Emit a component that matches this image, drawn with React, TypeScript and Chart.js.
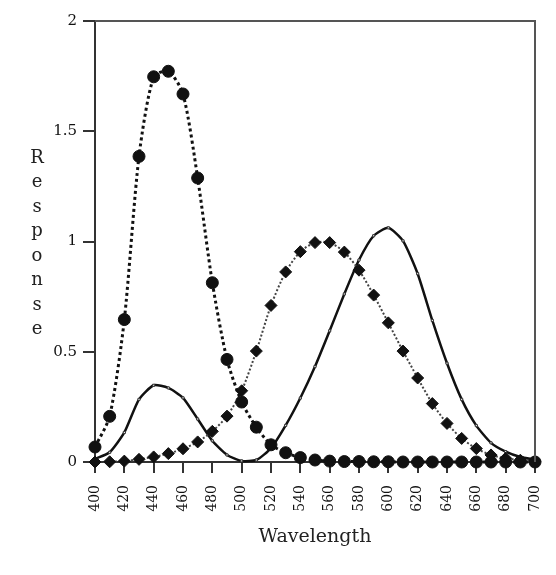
import React, { useEffect, useRef } from "react";
import { Chart, registerables } from "chart.js";

Chart.register(...registerables);

const wavelengths = [400,410,420,430,440,450,460,470,480,490,500,510,520,530,540,550,560,570,580,590,600,610,620,630,640,650,660,670,680,690,700];
const xBar = [0.014,0.044,0.134,0.284,0.348,0.336,0.291,0.195,0.096,0.032,0.005,0.009,0.063,0.166,0.290,0.433,0.595,0.762,0.916,1.026,1.062,1.003,0.854,0.642,0.448,0.284,0.165,0.087,0.047,0.023,0.011];
const yBar = [0.000,0.001,0.004,0.012,0.023,0.038,0.060,0.091,0.139,0.208,0.323,0.503,0.710,0.862,0.954,0.995,0.995,0.952,0.870,0.757,0.631,0.503,0.381,0.265,0.175,0.107,0.061,0.032,0.017,0.008,0.004];
const zBar = [0.068,0.207,0.646,1.386,1.747,1.772,1.669,1.288,0.813,0.465,0.272,0.158,0.078,0.042,0.020,0.009,0.004,0.002,0.002,0.001,0.001,0.000,0.000,0.000,0.000,0.000,0.000,0.000,0.000,0.000,0.000];
const yTitleLetters = ["R","e","s","p","o","n","s","e"];
const xTitle = "Wavelength";

const FONT = "'DejaVu Serif', 'Liberation Serif', serif";

const pts = (vals: number[]) => wavelengths.map((w, i) => ({ x: w, y: vals[i] }));

export default function App() {
  const ref = useRef<HTMLCanvasElement | null>(null);
  useEffect(() => {
    if (!ref.current) return;
    const framePlugin = {
      id: "frame",
      afterDraw(chart: any) {
        const { ctx, chartArea } = chart;
        ctx.save();
        ctx.strokeStyle = "#555";
        ctx.lineWidth = 2;
        ctx.beginPath();
        ctx.moveTo(chartArea.left, chartArea.top);
        ctx.lineTo(chartArea.right, chartArea.top);
        ctx.lineTo(chartArea.right, chartArea.bottom);
        ctx.stroke();
        ctx.fillStyle = "#222";
        ctx.font = "18px " + FONT;
        ctx.textAlign = "center";
        ctx.textBaseline = "middle";
        yTitleLetters.forEach((ch, i) => {
          ctx.fillText(ch, 37, 158 + i * 24.5);
        });
        ctx.restore();
      },
    };
    const chart = new Chart(ref.current, {
      type: "line",
      data: {
        datasets: [
          {
            label: "z",
            data: pts(zBar),
            borderColor: "#111",
            borderWidth: 3,
            borderDash: [3, 3],
            pointStyle: "circle",
            pointRadius: 6,
            pointBackgroundColor: "#111",
            pointBorderColor: "#111",
            pointBorderWidth: 1,
            tension: 0.25,
            clip: false,
          },
          {
            label: "y",
            data: pts(yBar),
            borderColor: "#444",
            borderWidth: 2,
            borderDash: [2, 2],
            pointStyle: "rectRot",
            pointRadius: 6,
            pointBackgroundColor: "#111",
            pointBorderColor: "#111",
            pointBorderWidth: 1,
            tension: 0.25,
            clip: false,
          },
          {
            label: "x",
            data: pts(xBar),
            borderColor: "#111",
            borderWidth: 2.5,
            pointStyle: "rect",
            pointRadius: 1.5,
            pointBackgroundColor: "#fff",
            pointBorderColor: "#333",
            pointBorderWidth: 1,
            tension: 0.2,
            clip: false,
          },
        ],
      },
      options: {
        animation: false,
        responsive: false,
        layout: { padding: { top: 21, right: 21, left: 0, bottom: 0 } },
        plugins: { legend: { display: false }, tooltip: { enabled: false } },
        scales: {
          x: {
            type: "linear",
            min: 400,
            max: 700,
            ticks: {
              stepSize: 20,
              autoSkip: false,
              minRotation: 90,
              maxRotation: 90,
              padding: 12,
              color: "#111",
              font: { family: FONT, size: 14 },
            },
            grid: { drawOnChartArea: false, drawTicks: true, tickLength: 11, color: "#333", lineWidth: 2 },
            border: { display: true, color: "#333", width: 2 },
            title: {
              display: true,
              text: xTitle,
              color: "#222",
              font: { family: FONT, size: 19 },
              padding: { top: 0, bottom: 27 },
            },
            afterFit: (s: any) => { s.height = 113; s.paddingLeft = 0; s.paddingRight = 0; },
          },
          y: {
            min: 0,
            max: 2,
            ticks: {
              stepSize: 0.5,
              padding: 6,
              color: "#111",
              font: { family: FONT, size: 15 },
              callback: (v: any) => String(v),
            },
            grid: { drawOnChartArea: false, drawTicks: true, tickLength: 12, color: "#333", lineWidth: 2 },
            border: { display: true, color: "#333", width: 2 },
            afterFit: (s: any) => { s.width = 95; s.paddingTop = 0; s.paddingBottom = 0; },
          },
        },
      },
      plugins: [framePlugin],
    });
    return () => chart.destroy();
  }, []);
  return (
    <canvas
      ref={ref}
      width={556}
      height={575}
      style={{ position: "absolute", left: 0, top: 0, width: 556, height: 575, background: "#fff" }}
    />
  );
}
